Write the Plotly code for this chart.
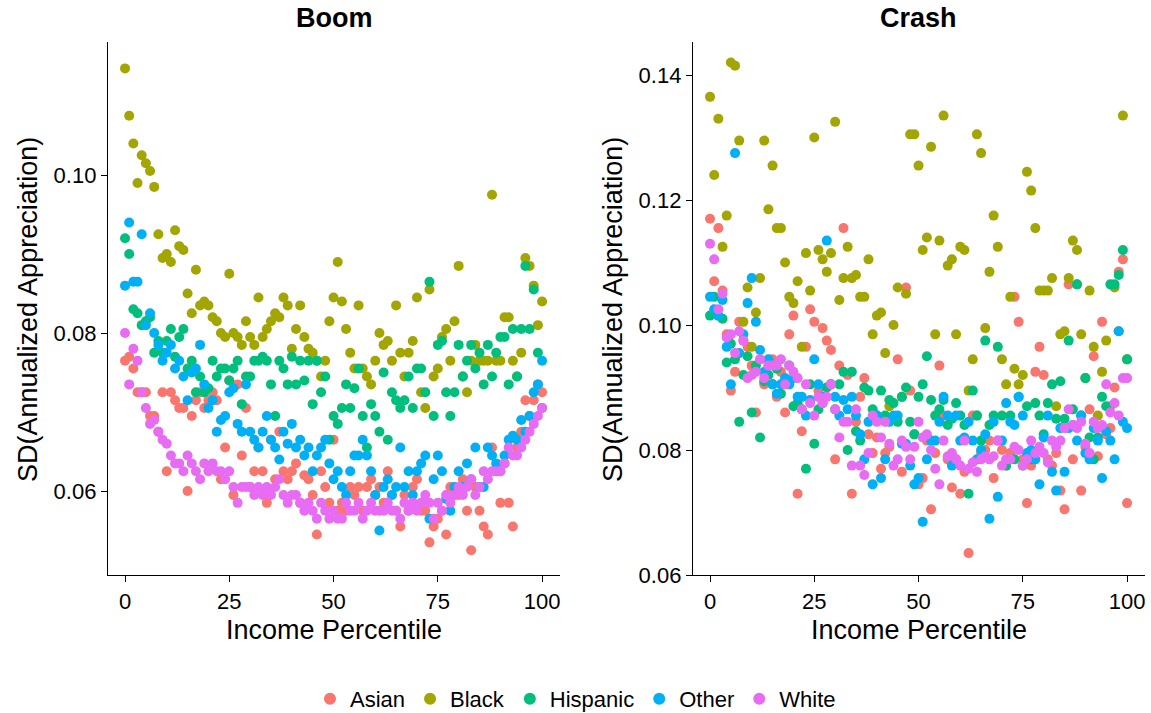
import plotly.graph_objects as go

W, H = 1151, 713
percentile = list(range(0, 101))
groups = ["Asian", "Black", "Hispanic", "Other", "White"]
colors = ["#F8766D", "#A3A500", "#00BF7D", "#00B0F6", "#E76BF3"]

boom_asian = [0.0765,0.077,0.0755,0.0725,0.0725,0.0725,0.0695,0.0695,0.0675,0.0725,0.0625,0.0725,0.0715,0.0705,0.0705,0.060,0.0695,0.0715,0.0725,0.0705,
0.0715,0.0725,0.0715,0.0615,0.0655,0.074,0.0595,0.0735,0.0645,0.0705,0.0605,0.0625,0.0655,0.0625,0.0585,0.0665,0.0615,0.0675,0.0625,0.0615,
0.0625,0.0635,0.0585,0.062,0.0615,0.0595,0.0545,0.0625,0.0605,0.0585,0.0665,0.0575,0.0585,0.0575,0.0605,0.0595,0.0605,0.0575,0.0605,0.0615,
0.0595,0.0605,0.0585,0.0625,0.0595,0.0575,0.0555,0.0595,0.0575,0.0605,0.0615,0.0575,0.0575,0.0535,0.0555,0.0565,0.0575,0.0545,0.0605,0.0595,
0.0595,0.0615,0.0575,0.0525,0.0605,0.0575,0.0555,0.0545,0.0655,0.0625,0.0585,0.0635,0.0585,0.0555,0.0655,0.0675,0.0715,0.0695,0.0715,0.0735,0.0725]
boom_black = [0.1135,0.1075,0.104,0.099,0.1025,0.1015,0.1005,0.0985,0.0925,0.0895,0.090,0.089,0.093,0.091,0.0905,0.085,0.0825,0.088,0.0835,0.084,
0.0835,0.082,0.0815,0.080,0.0795,0.0875,0.080,0.0795,0.0785,0.0815,0.0795,0.0785,0.0845,0.0795,0.0805,0.0815,0.0825,0.082,0.0845,0.0835,
0.078,0.0805,0.0835,0.0795,0.078,0.0775,0.0765,0.0745,0.0765,0.0815,0.0845,0.089,0.084,0.0805,0.0775,0.0755,0.0835,0.0755,0.0745,0.0735,
0.0765,0.080,0.0785,0.079,0.0765,0.0835,0.0775,0.0745,0.0775,0.079,0.0845,0.0725,0.0705,0.0855,0.0745,0.0755,0.0795,0.0805,0.0765,0.0815,
0.0885,0.0745,0.0725,0.0765,0.0785,0.0765,0.0765,0.0765,0.0975,0.0765,0.0765,0.082,0.082,0.0765,0.0745,0.0775,0.0895,0.0885,0.086,0.081,0.084]
boom_hispanic = [0.092,0.090,0.083,0.0825,0.081,0.0815,0.082,0.0775,0.079,0.0775,0.079,0.0805,0.077,0.0795,0.0805,0.0755,0.0765,0.0725,0.0745,0.0725,
0.073,0.0765,0.0745,0.0755,0.0755,0.074,0.0755,0.0765,0.071,0.0745,0.0745,0.0765,0.0765,0.077,0.0765,0.0735,0.0695,0.0765,0.0755,0.0735,
0.077,0.0735,0.0765,0.074,0.0765,0.071,0.0765,0.0725,0.0745,0.0665,0.0695,0.0685,0.0705,0.0735,0.0705,0.073,0.0755,0.0695,0.0655,0.071,
0.0695,0.0675,0.075,0.0665,0.0725,0.0715,0.0705,0.0715,0.0745,0.0705,0.0755,0.0755,0.0725,0.0865,0.0695,0.0785,0.079,0.0725,0.0695,0.0725,
0.0785,0.0745,0.0765,0.0785,0.0755,0.0775,0.0735,0.0785,0.0745,0.0775,0.0795,0.0795,0.0735,0.0805,0.0745,0.0805,0.0885,0.0805,0.0855,0.0775,0.0705]
boom_other = [0.086,0.094,0.0865,0.0865,0.0925,0.081,0.0825,0.080,0.0785,0.0765,0.0775,0.0785,0.0755,0.0765,0.0745,0.0715,0.075,0.0755,0.0785,0.0735,
0.0705,0.0715,0.0675,0.069,0.0695,0.0725,0.073,0.0685,0.0675,0.0735,0.0675,0.0665,0.0655,0.0675,0.0695,0.0665,0.0655,0.064,0.0675,0.066,
0.0685,0.0655,0.0665,0.0645,0.0655,0.0625,0.0645,0.0655,0.0665,0.0635,0.0615,0.0625,0.0605,0.0595,0.0625,0.0645,0.0645,0.0665,0.0645,0.0625,
0.0595,0.055,0.0605,0.0615,0.0595,0.0605,0.0655,0.0605,0.0625,0.0595,0.0625,0.0635,0.0645,0.0565,0.0615,0.0645,0.0625,0.059,0.0575,0.0605,
0.0625,0.0605,0.0635,0.0615,0.0655,0.0605,0.0605,0.0655,0.0645,0.0635,0.0625,0.0645,0.0665,0.067,0.0665,0.069,0.0675,0.0695,0.0725,0.0735,0.0765]
boom_white = [0.080,0.0735,0.078,0.0765,0.0725,0.0705,0.0685,0.069,0.0675,0.0665,0.066,0.0645,0.0635,0.0635,0.0625,0.0645,0.0635,0.0625,0.0615,0.0635,
0.0625,0.0635,0.0625,0.0625,0.0615,0.0625,0.0605,0.0585,0.0605,0.0605,0.0605,0.0595,0.0605,0.0595,0.0605,0.0595,0.0605,0.0615,0.0595,0.0585,
0.0595,0.0595,0.0585,0.0575,0.0585,0.0575,0.0565,0.0585,0.0575,0.0565,0.0575,0.0565,0.0565,0.0585,0.0575,0.0575,0.0585,0.0565,0.0575,0.0585,
0.0575,0.0575,0.0575,0.0585,0.0575,0.0575,0.0565,0.0585,0.0575,0.0585,0.0575,0.0585,0.0595,0.0585,0.0565,0.0585,0.0575,0.0595,0.0585,0.0595,
0.0605,0.0595,0.0605,0.0615,0.0595,0.0605,0.0625,0.0615,0.0625,0.0625,0.0625,0.0635,0.0655,0.0645,0.0645,0.0655,0.0665,0.0675,0.0685,0.0695,0.0705]

crash_asian = [0.117,0.107,0.1155,0.1055,0.0985,0.0895,0.0925,0.1005,0.0975,0.0965,0.0935,0.086,0.0945,0.0905,0.0935,0.0945,0.0885,0.0925,0.086,0.0985,
0.1015,0.073,0.083,0.0965,0.1025,0.1005,0.0895,0.0995,0.0975,0.096,0.0785,0.0935,0.1155,0.092,0.073,0.0845,0.0885,0.0915,0.0825,0.0795,
0.082,0.077,0.0795,0.0805,0.085,0.0945,0.0765,0.106,0.0895,0.0825,0.0745,0.0755,0.0815,0.0705,0.0795,0.0935,0.0855,0.0785,0.074,0.0785,
0.073,0.0765,0.0635,0.0855,0.0855,0.0795,0.080,0.0815,0.0755,0.0815,0.080,0.0775,0.0795,0.1045,0.1005,0.0785,0.0715,0.0775,0.0925,0.0965,
0.092,0.0785,0.0775,0.0795,0.0735,0.0705,0.1065,0.0785,0.1065,0.0735,0.0805,0.0865,0.095,0.079,0.1005,0.0825,0.0835,0.090,0.1085,0.1105,0.0715]
crash_black = [0.1365,0.124,0.133,0.1125,0.1175,0.142,0.1415,0.1295,0.1005,0.106,0.0965,0.102,0.1075,0.1295,0.1185,0.1255,0.1155,0.1155,0.110,0.1045,
0.1035,0.107,0.0965,0.1115,0.1055,0.130,0.112,0.1105,0.1085,0.1115,0.1325,0.104,0.1075,0.1125,0.1075,0.108,0.1045,0.1045,0.1105,0.0985,
0.1015,0.102,0.0955,0.087,0.100,0.106,0.0885,0.105,0.1305,0.1305,0.1255,0.112,0.114,0.1285,0.0985,0.1135,0.1335,0.1095,0.1105,0.0985,
0.1125,0.112,0.0895,0.0945,0.1305,0.1275,0.0995,0.1085,0.1175,0.1125,0.0945,0.0905,0.1045,0.093,0.0905,0.092,0.1245,0.1215,0.1155,0.1055,
0.1055,0.1055,0.1075,0.087,0.0985,0.099,0.1075,0.1135,0.112,0.0985,0.0915,0.1055,0.0965,0.0855,0.0925,0.0975,0.087,0.106,0.099,0.1335,0.0945]
crash_hispanic = [0.1015,0.1045,0.1015,0.101,0.094,0.097,0.0945,0.0845,0.092,0.095,0.086,0.0935,0.082,0.091,0.092,0.0905,0.093,0.089,0.0905,0.0935,
0.087,0.0875,0.0865,0.077,0.0905,0.081,0.0865,0.0875,0.090,0.0905,0.0865,0.0905,0.0925,0.080,0.0925,0.083,0.0815,0.090,0.0895,0.0865,
0.0855,0.0895,0.0855,0.088,0.0875,0.0845,0.0885,0.090,0.0845,0.0825,0.0885,0.0905,0.095,0.088,0.0855,0.0865,0.088,0.084,0.085,0.0875,
0.0855,0.084,0.073,0.0895,0.0855,0.0815,0.0975,0.084,0.0855,0.0965,0.0855,0.0775,0.0855,0.0785,0.0885,0.0775,0.087,0.0785,0.0875,0.0855,
0.0825,0.0875,0.0905,0.085,0.091,0.085,0.0975,0.0865,0.1065,0.0855,0.0915,0.082,0.0785,0.082,0.0885,0.087,0.1065,0.1065,0.108,0.112,0.0945]
crash_other = [0.1045,0.1025,0.1015,0.104,0.0965,0.0905,0.1275,0.0955,0.0985,0.1035,0.1075,0.1005,0.096,0.0925,0.0945,0.0905,0.089,0.0905,0.0915,0.0905,
0.0915,0.0885,0.0885,0.0855,0.088,0.0945,0.0905,0.0885,0.1135,0.0905,0.0885,0.0855,0.088,0.0865,0.0885,0.0855,0.0825,0.0785,0.0845,0.0745,
0.0855,0.0755,0.0785,0.0845,0.0855,0.0855,0.081,0.081,0.0775,0.0745,0.0755,0.0685,0.0785,0.0815,0.0815,0.0845,0.0885,0.0855,0.0775,0.0855,
0.0815,0.082,0.0845,0.0815,0.0785,0.080,0.0825,0.069,0.0845,0.0725,0.0815,0.0875,0.0845,0.084,0.0885,0.0855,0.0795,0.080,0.0785,0.0745,
0.082,0.0855,0.0765,0.0735,0.0835,0.0765,0.0835,0.084,0.0815,0.0855,0.0795,0.0785,0.0835,0.0815,0.0755,0.083,0.0815,0.0785,0.099,0.0845,0.0835]
crash_white = [0.113,0.1105,0.1025,0.105,0.098,0.0985,0.0955,0.099,0.0975,0.0915,0.092,0.0925,0.0945,0.0915,0.0935,0.0935,0.0935,0.0945,0.0905,0.0935,
0.0925,0.0915,0.0865,0.0905,0.0875,0.0855,0.0885,0.0875,0.0885,0.0905,0.0865,0.082,0.0845,0.0845,0.0775,0.0865,0.0775,0.076,0.0795,0.0855,
0.0845,0.082,0.0845,0.081,0.0775,0.0785,0.0815,0.0805,0.0785,0.0805,0.0845,0.082,0.0825,0.080,0.077,0.0745,0.0815,0.079,0.0795,0.0785,
0.0775,0.0815,0.077,0.078,0.0765,0.0785,0.079,0.0785,0.079,0.0815,0.0775,0.0785,0.0785,0.0805,0.080,0.0775,0.0785,0.0815,0.0795,0.0805,
0.0795,0.078,0.0815,0.0805,0.0815,0.0835,0.0865,0.084,0.0835,0.0845,0.081,0.0795,0.0845,0.0835,0.084,0.0905,0.086,0.0875,0.0855,0.0915,0.0915]

boom = [boom_asian, boom_black, boom_hispanic, boom_other, boom_white]
crash = [crash_asian, crash_black, crash_hispanic, crash_other, crash_white]

FONT = "Liberation Sans, Arial, sans-serif"
fig = go.Figure()
for i, g in enumerate(groups):
    fig.add_trace(go.Scatter(x=percentile, y=boom[i], mode="markers", name=g, legendgroup=g,
                             marker=dict(color=colors[i], size=10, line=dict(width=0)),
                             xaxis="x", yaxis="y"))
for i, g in enumerate(groups):
    fig.add_trace(go.Scatter(x=percentile, y=crash[i], mode="markers", name=g, legendgroup=g, showlegend=False,
                             marker=dict(color=colors[i], size=10, line=dict(width=0)),
                             xaxis="x2", yaxis="y2"))

def py(p):
    return 1 - p / H

ydom = [py(575), py(42)]
axis_common = dict(showgrid=False, zeroline=False, showline=True, linecolor="black", linewidth=1.3,
                   ticks="outside", ticklen=6, tickcolor="black", tickwidth=1.3,
                   tickfont=dict(family=FONT, size=22, color="black"), automargin=False)
xtick = dict(tickmode="array", tickvals=[0, 25, 50, 75, 100], ticktext=["0", "25", "50", "75", "100"])

fig.update_layout(
    width=W, height=H,
    margin=dict(l=0, r=0, t=0, b=0, autoexpand=False),
    plot_bgcolor="white", paper_bgcolor="white",
    font=dict(family=FONT, color="black"),
    xaxis=dict(domain=[108 / W, 560 / W], range=[-4.08, 104.3], anchor="y", **xtick, **axis_common),
    yaxis=dict(domain=ydom, range=[0.04937, 0.11684], anchor="x",
               tickmode="array", tickvals=[0.06, 0.08, 0.10], ticktext=["0.06", "0.08", "0.10"], **axis_common),
    xaxis2=dict(domain=[693 / W, 1145 / W], range=[-4.08, 104.3], anchor="y2", **xtick, **axis_common),
    yaxis2=dict(domain=ydom, range=[0.06, 0.14528], anchor="x2",
                tickmode="array", tickvals=[0.06, 0.08, 0.10, 0.12, 0.14],
                ticktext=["0.06", "0.08", "0.10", "0.12", "0.14"], **axis_common),
    legend=dict(orientation="h", x=0.5, xanchor="center", y=py(699), yanchor="middle",
                font=dict(family=FONT, size=22, color="black"), itemsizing="constant",
                itemwidth=30, tracegroupgap=0),
    showlegend=True,
)

ann = []
for cx, t in [(334, "Boom"), (919, "Crash")]:
    ann.append(dict(text="<b>" + t + "</b>", x=cx / W, y=py(18), xref="paper", yref="paper",
                    showarrow=False, font=dict(family=FONT, size=27, color="black"),
                    xanchor="center", yanchor="middle"))
    ann.append(dict(text="Income Percentile", x=cx / W, y=py(630), xref="paper", yref="paper",
                    showarrow=False, font=dict(family=FONT, size=27, color="black"),
                    xanchor="center", yanchor="middle"))
for cx in [28, 613]:
    ann.append(dict(text="SD(Annualized Appreciation)", x=cx / W, y=py(310), xref="paper", yref="paper",
                    showarrow=False, textangle=-90, font=dict(family=FONT, size=27, color="black"),
                    xanchor="center", yanchor="middle"))
fig.update_layout(annotations=ann)

fig.write_html("out.html")
